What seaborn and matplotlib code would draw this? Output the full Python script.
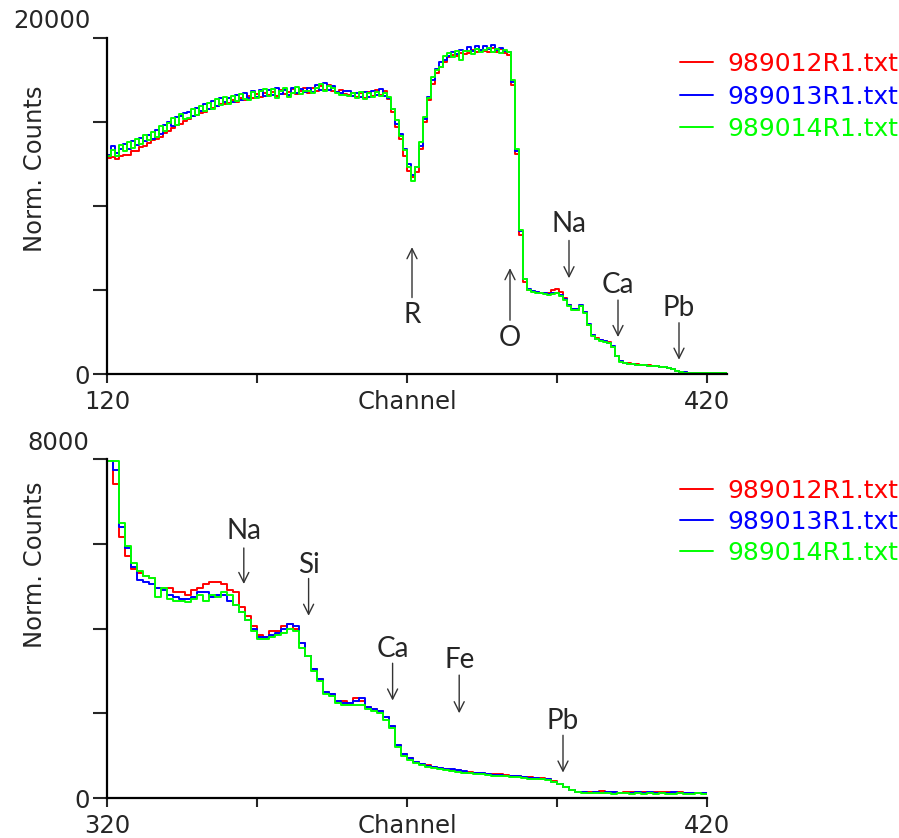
import numpy as np
import pandas as pd
import matplotlib

matplotlib.use("Agg")

import matplotlib.pyplot as plt
import seaborn as sns

# ------------------------------------------------------------
# Data
# ------------------------------------------------------------

files = ["989012R1.txt", "989013R1.txt", "989014R1.txt"]
colors = ["#ff0000", "#0000ff", "#00ff00"]

# full spectrum, bins of 2 channels starting at channel 120
top_start = 120
top_bin = 2

top_red = [
    12850, 12900, 12800, 13000, 13050, 13050, 13300, 13300, 13500, 13550,
    13750, 13900, 14000, 14100, 14350, 14450, 14650, 14800, 14900, 15050,
    15200, 15350, 15400, 15550, 15600, 15750, 15850, 15950, 16050, 16100,
    16150, 16300, 16200, 16450, 16300, 16550, 16400, 16650, 16500, 16700,
    16600, 16800, 16550, 16900, 16650, 16800, 16950, 16650, 16850, 17000,
    16750, 17000, 16850, 17150, 16900, 17200, 16850, 16800, 16900, 16650,
    16600, 16750, 16500, 16700, 16450, 16800, 16550, 16900, 16600, 16850,
    16350, 15600, 14700, 14000, 13000, 12100, 11700, 12000, 13400, 15000,
    16300, 17250, 17900, 18300, 18600, 18850, 19000, 18900, 19100, 19050,
    19100, 19300, 19150, 19300, 19250, 19150, 19400, 19150, 19350, 19100,
    19000, 17200, 13100, 8300, 5500, 5000, 4950, 4900, 4850, 4850,
    4850, 5000, 5050, 4900, 4500, 4100, 3850, 3800, 4050, 3700,
    2900, 2300, 2150, 2050, 1950, 1900, 1600, 1100, 750, 650,
    640, 590, 570, 540, 520, 510, 480, 460, 430, 400,
    350, 280, 200, 140, 95, 70, 65, 55, 60, 50,
    50, 40, 50, 40, 45,
]

top_blue = [
    13050, 13550, 13150, 13400, 13700, 13400, 13850, 13650, 14050, 13850,
    14200, 14000, 14550, 14300, 14850, 15000, 14750, 15300, 15350, 15550,
    15600, 15350, 15850, 15650, 16050, 15800, 16250, 15950, 16400, 16200,
    16450, 16200, 16600, 16300, 16750, 16400, 16850, 16500, 16900, 16550,
    16900, 16600, 17050, 16650, 16900, 16600, 17050, 16700, 16950, 16800,
    17000, 16800, 17200, 16900, 17300, 16900, 17150, 16800, 16700, 16850,
    16850, 16550, 16700, 16500, 16800, 16500, 16850, 16600, 16950, 16550,
    16450, 15800, 14900, 14300, 13400, 12500, 11850, 12300, 13600, 15200,
    16500, 17500, 18150, 18550, 18700, 18950, 19150, 19050, 19300, 19250,
    19450, 19200, 19550, 19300, 19500, 19350, 19600, 19300, 19400, 19250,
    19150, 17400, 13300, 8500, 5650, 5050, 4950, 4900, 4850, 4800,
    4750, 4800, 4800, 4700, 4450, 4100, 3850, 3850, 4100, 3700,
    2950, 2300, 2100, 2000, 1950, 1850, 1650, 1100, 750, 650,
    620, 600, 560, 550, 520, 500, 490, 470, 430, 410,
    355, 285, 205, 140, 90, 75, 60, 60, 50, 55,
    45, 50, 40, 45, 40,
]

top_green = [
    12950, 13350, 12950, 13650, 13300, 13800, 13450, 14000, 13700, 14200,
    13900, 14400, 14100, 14750, 14450, 14950, 15250, 14850, 15450, 15200,
    15250, 15750, 15400, 15950, 15650, 16150, 15800, 16350, 16000, 16500,
    16100, 16550, 16250, 16650, 16350, 16300, 16800, 16450, 16850, 16950,
    16550, 16950, 16400, 16850, 17050, 16500, 16750, 17100, 16650, 16850,
    16850, 16700, 17000, 17250, 16850, 17150, 17050, 16700, 16600, 16600,
    16550, 16700, 16400, 16800, 16350, 16700, 16500, 16800, 16550, 16750,
    16500, 15750, 15100, 14150, 13350, 12350, 11500, 12350, 13800, 15300,
    16450, 17650, 18100, 18250, 18900, 19100, 18850, 19250, 18700, 19250,
    19200, 19050, 19350, 19150, 19300, 19400, 19150, 19350, 19100, 19300,
    19150, 17500, 13400, 8600, 5650, 5000, 4900, 4850, 4800, 4750,
    4700, 4750, 4800, 4650, 4400, 4050, 3800, 3800, 4050, 3650,
    2900, 2250, 2100, 1950, 1900, 1850, 1600, 1050, 700, 650,
    610, 580, 550, 530, 510, 490, 470, 450, 420, 390,
    345, 275, 195, 135, 85, 65, 55, 50, 45, 45,
    40, 45, 40, 40, 35,
]

# zoomed spectrum, bins of 1 channel starting at channel 320
bot_start = 320
bot_bin = 1

bot_red = [
    7950, 7400, 6150, 5700, 5400, 5300, 5250, 5200, 4950, 4950,
    4950, 4850, 4850, 4800, 4900, 4950, 5050, 5100, 5100, 5050,
    4900, 4850, 4500, 4300, 4050, 3850, 3800, 3950, 3950, 4050,
    4100, 4000, 3650, 3350, 3050, 2800, 2500, 2450, 2300, 2300,
    2250, 2350, 2300, 2150, 2100, 2050, 1900, 1700, 1250, 1050,
    950, 860, 810, 770, 720, 710, 690, 670, 650, 620,
    610, 600, 580, 570, 560, 560, 540, 520, 520, 500,
    490, 480, 470, 460, 390, 330, 270, 200, 150, 140,
    130, 150, 160, 150, 130, 120, 140, 150, 130, 140,
    120, 130, 150, 140, 120, 150, 120, 110, 120, 110,
]

bot_blue = [
    7950, 7750, 6400, 5900, 5450, 5150, 5100, 5050, 4950, 4900,
    4800, 4750, 4700, 4700, 4750, 4850, 4850, 4750, 4800, 4800,
    4650, 4550, 4400, 4200, 4000, 3800, 3800, 3850, 3900, 4000,
    4100, 4050, 3650, 3350, 3050, 2800, 2500, 2450, 2300, 2250,
    2250, 2300, 2350, 2150, 2100, 2050, 1900, 1700, 1250, 1050,
    950, 850, 800, 760, 730, 700, 690, 680, 650, 630,
    600, 590, 580, 570, 550, 540, 530, 520, 510, 490,
    480, 470, 460, 440, 380, 330, 270, 200, 150, 130,
    120, 130, 120, 130, 140, 120, 110, 120, 130, 120,
    130, 120, 110, 120, 130, 120, 120, 110, 120, 120,
]

bot_green = [
    7950, 7950, 6500, 5950, 5550, 5350, 5250, 5200, 4750, 4950,
    4700, 4650, 4650, 4620, 4700, 4800, 4650, 4800, 4750, 4850,
    4800, 4550, 4400, 4200, 3950, 3750, 3750, 3800, 3850, 3900,
    4000, 3950, 3550, 3350, 3000, 2750, 2450, 2400, 2250, 2200,
    2200, 2200, 2200, 2100, 2050, 2000, 1850, 1650, 1200, 1000,
    900, 820, 780, 740, 700, 680, 660, 640, 620, 600,
    580, 570, 560, 550, 530, 520, 510, 500, 490, 470,
    460, 450, 440, 420, 370, 320, 260, 190, 140, 120,
    110, 110, 120, 110, 100, 110, 110, 100, 110, 100,
    110, 100, 110, 100, 100, 110, 100, 100, 110, 100,
]

# element markers: label, channel, text height, arrow tail, arrow head
top_marks = [
    ("R", 272.5, 3500, 4550, 7550),
    ("O", 321.5, 2150, 3200, 6300),
    ("Na", 351.0, 8900, 7950, 5700),
    ("Ca", 375.5, 5300, 4400, 2200),
    ("Pb", 406.0, 3950, 3050, 850),
]

bot_marks = [
    ("Na", 342.8, 6300, 5900, 5050),
    ("Si", 353.6, 5500, 5180, 4300),
    ("Ca", 367.6, 3520, 3180, 2300),
    ("Fe", 378.7, 3260, 2900, 2000),
    ("Pb", 396.0, 1820, 1480, 600),
]


# ------------------------------------------------------------
# Helpers
# ------------------------------------------------------------

def spectrum_frame(start, width, series):
    parts = []
    for name, vals in zip(files, series):
        edges = start + width * np.arange(len(vals) + 1)
        counts = list(vals) + [vals[-1]]
        parts.append(pd.DataFrame({"Channel": edges, "Counts": counts, "File": name}))
    return pd.concat(parts, ignore_index=True)


def draw_panel(ax, df, xlim, xticks, xlabels, ymax, marks, legend_top, spacing):

    sns.lineplot(
        data=df,
        x="Channel",
        y="Counts",
        hue="File",
        hue_order=files,
        palette=colors,
        estimator=None,
        drawstyle="steps-post",
        linewidth=1.4,
        legend=False,
        ax=ax,
    )

    ax.set_xlim(*xlim)
    ax.set_ylim(0, ymax)
    sns.despine(ax=ax)

    for side in ["left", "bottom"]:
        ax.spines[side].set_linewidth(1.6)
        ax.spines[side].set_color("black")

    ax.set_xticks(xticks)
    ax.set_xticklabels(xlabels)
    ax.set_yticks(np.linspace(0, ymax, 5))
    ax.set_yticklabels(["0", "", "", "", ""])
    ax.set_xlabel("")
    ax.set_ylabel("")

    ax.tick_params(axis="x", length=6.5, width=1.5, pad=5, labelsize=17.5, direction="out")
    ax.tick_params(axis="y", length=10, width=1.5, pad=2, labelsize=17.5, direction="out")

    for label, ch, ty, tail, head in marks:
        ax.annotate(
            "",
            xy=(ch, head),
            xytext=(ch, tail),
            arrowprops=dict(arrowstyle="->", color="#333333", lw=1.0,
                            mutation_scale=18, shrinkA=0, shrinkB=0),
        )
        ax.text(ch, ty, label, ha="center", va="center", fontsize=20,
                family=["Lato", "DejaVu Sans"])

    handles = ax.get_lines()[:3]
    ax.legend(
        handles,
        files,
        loc="upper left",
        bbox_to_anchor=(680 / 899, 1 - legend_top / 838),
        bbox_transform=fig.transFigure,
        frameon=False,
        labelcolor="linecolor",
        fontsize=18,
        handlelength=1.3,
        handletextpad=0.6,
        labelspacing=spacing,
        borderpad=0,
        borderaxespad=0,
    )


# ------------------------------------------------------------
# Figure
# ------------------------------------------------------------

sns.set_style("ticks")
plt.rcParams["font.family"] = ["DejaVu Sans"]

fig = plt.figure(figsize=(8.99, 8.38), dpi=100)

ax_top = fig.add_axes([107 / 899, 1 - 374 / 838, 620 / 899, 336 / 838])
ax_bot = fig.add_axes([107 / 899, 1 - 798 / 838, 600 / 899, 339 / 838])

top_df = spectrum_frame(top_start, top_bin, [top_red, top_blue, top_green])
bot_df = spectrum_frame(bot_start, bot_bin, [bot_red, bot_blue, bot_green])

draw_panel(ax_top, top_df, (120, 430), [120, 195, 270, 345, 420],
           ["120", "", "Channel", "", "420"], 20000, top_marks, 52, 0.34)

draw_panel(ax_bot, bot_df, (320, 420), [320, 345, 370, 395, 420],
           ["320", "", "Channel", "", "420"], 8000, bot_marks, 479, 0.28)

# top-of-axis labels sit above the axis end
fig.text(91 / 899, 1 - 21 / 838, "20000", ha="right", va="center", fontsize=17.5)
fig.text(89 / 899, 1 - 443 / 838, "8000", ha="right", va="center", fontsize=17.5)

fig.text(35 / 899, 1 - 169 / 838, "Norm. Counts", rotation=90,
         ha="center", va="center", fontsize=17.5)
fig.text(35 / 899, 1 - 565 / 838, "Norm. Counts", rotation=90,
         ha="center", va="center", fontsize=17.5)

fig.savefig("out.png", dpi=100)
plt.close(fig)
